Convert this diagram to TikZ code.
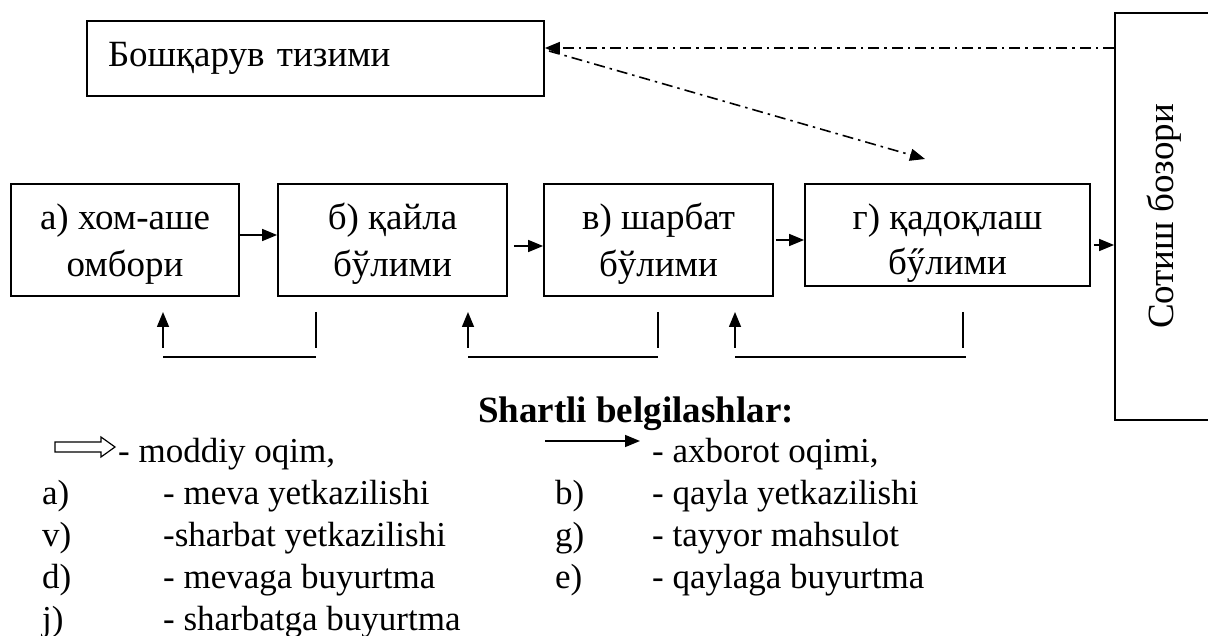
\documentclass[tikz,border=0pt]{standalone}
\usepackage{fontspec}
\setmainfont{Liberation Serif}
\usetikzlibrary{arrows.meta}
\tikzset{
  unit/.style={draw, line width=1.8pt, inner sep=0pt, align=center,
    font=\fontsize{37}{47}\selectfont},
  flow/.style={line width=1.5pt, -{Triangle[length=15pt,width=12pt]}},
  plain/.style={line width=1.5pt},
  ctrl/.style={line width=1.6pt, dash pattern=on 11pt off 5pt on 2.5pt off 5pt,
    -{Triangle[length=15pt,width=12pt]}},
  legend/.style={anchor=base west, inner sep=0pt, font=\fontsize{35}{42}\selectfont},
}
\begin{document}
\begin{tikzpicture}[x=1pt,y=-1pt]
\useasboundingbox (0,0) rectangle (1208,636);

% management and production units (struts keep the two text lines in place)
\node[unit, minimum width=457pt, minimum height=75pt, text width=415pt, align=left]
  (ctl) at (315.5,58.5) {Бошқарув тизими};
\node[unit, minimum width=228pt, minimum height=112pt] (raw) at (125,240)
  {\rule{0pt}{36pt}а) хом-аше\\омбори\rule[-9pt]{0pt}{9pt}};
\node[unit, minimum width=229pt, minimum height=112pt] (sauce) at (392.5,240)
  {\rule{0pt}{36pt}б) қайла\\бўлими\rule[-9pt]{0pt}{9pt}};
\node[unit, minimum width=229pt, minimum height=112pt] (juice) at (658.5,240)
  {\rule{0pt}{36pt}в) шарбат\\бўлими\rule[-9pt]{0pt}{9pt}};
\node[unit, minimum width=285pt, minimum height=102pt, font=\fontsize{37}{45}\selectfont]
  (pack) at (947.5,235)
  {\rule{0pt}{44pt}г) қадоқлаш\\бӳлими\rule[-9pt]{0pt}{9pt}};
\node[unit, minimum width=99pt, minimum height=407pt] (market) at (1164.5,216.5)
  {\rotatebox{90}{Сотиш бозори}};

% material flow between units
\draw[flow] ([yshift=5pt]raw.east) -- ([yshift=5pt]raw.east -| sauce.west);
\draw[flow] ([xshift=6pt,yshift=-6pt]sauce.east) -- ([yshift=-6pt]sauce.east -| juice.west);
\draw[flow] ([xshift=2pt]juice.east) -- (juice.east -| pack.west);
\draw[flow] ([xshift=3pt,yshift=-10pt]pack.east) -- ([yshift=-10pt]pack.east -| market.west);

% control links
\coordinate (ctlin) at (ctl.east |- 0,48);
\coordinate (ctlout) at (549,51);
\coordinate (packorder) at (925,159);
\draw[ctrl] (market.west |- ctlin) -- (ctlin);
\draw[ctrl] (ctlout) -- (packorder);

% order feedback below the units
\foreach \up/\right in {163/316, 468/658, 735/966}{
  \draw[flow] (\up,348) -- (\up,312);
  \draw[plain] (\up,357) -- (\right,357);
}
\draw[plain] (316,312) -- (316,348);
\draw[plain] (658,312) -- (658,348);
\draw[plain] (963,312) -- (963,348);

% legend
\node[anchor=base west, inner sep=0pt, font=\bfseries\fontsize{37}{42}\selectfont]
  (title) at (478,422) {Shartli belgilashlar:};
\draw[line width=1.2pt] (55,442) -- (101,442) -- (101,437) -- (115,447) -- (101,457)
  -- (101,452) -- (55,452) -- cycle;
\node[legend] (l1) at (118,462) {- moddiy oqim,};
\draw[flow] (545,441) -- (640,441);
\node[legend] (l2) at (652,462) {- axborot oqimi,};
\node[legend] (ka) at (42,504) {a)};  \node[legend] (ta) at (163,504) {- meva yetkazilishi};
\node[legend] (kv) at (42,546) {v)};  \node[legend] (tv) at (163,546) {-sharbat yetkazilishi};
\node[legend] (kd) at (42,588) {d)};  \node[legend] (td) at (163,588) {- mevaga buyurtma};
\node[legend] (kj) at (42,630) {j)};  \node[legend] (tj) at (163,630) {- sharbatga buyurtma};
\node[legend] (kb) at (555,504) {b)}; \node[legend] (tb) at (652,504) {- qayla yetkazilishi};
\node[legend] (kg) at (555,546) {g)}; \node[legend] (tg) at (652,546) {- tayyor mahsulot};
\node[legend] (ke) at (555,588) {e)}; \node[legend] (te) at (652,588) {- qaylaga buyurtma};
\end{tikzpicture}
\end{document}
